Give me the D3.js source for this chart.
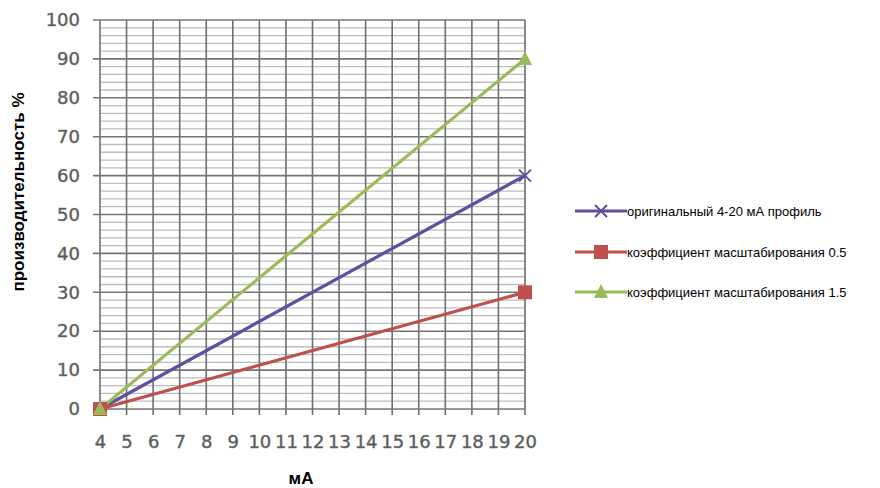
<!DOCTYPE html>
<html>
<head>
<meta charset="utf-8">
<script src="https://cdn.jsdelivr.net/npm/d3@7"></script>
<style>
body { margin: 0; background: #fff; }
svg { display: block; }
</style>
</head>
<body>
<div id="g"></div>
<script>
// data
const xValues = [4, 20];
const seriesNames = ["оригинальный 4-20 мА профиль", "коэффициент масштабирования 0.5", "коэффициент масштабирования 1.5"];
const original = [0, 60];
const scale05 = [0, 30];
const scale15 = [0, 90];
const xTicks = d3.range(4, 21);
const yTicks = [0, 10, 20, 30, 40, 50, 60, 70, 80, 90, 100];
const yMinor = d3.range(0, 101, 2);

const colors = ["#5E509F", "#C0504D", "#9BBB59"];
const shapes = ["x", "square", "triangle"];
const series = [original, scale05, scale15].map((vals, i) => ({
    name: seriesNames[i],
    color: colors[i],
    shape: shapes[i],
    pts: vals.map((v, j) => ({ x: xValues[j], y: v }))
}));

const width = 880, height = 488;
const margin = { top: 20, left: 100, right: 355, bottom: 79 };

const svg = d3.select("#g").append("svg")
    .attr("width", width)
    .attr("height", height);

const x = d3.scaleLinear().domain([4, 20]).range([margin.left, width - margin.right]);
const y = d3.scaleLinear().domain([0, 100]).range([height - margin.bottom, margin.top]);

const grid = svg.append("g");
// minor horizontal lines
grid.selectAll(".minor").data(yMinor.filter(d => d % 10 != 0))
    .enter().append("line")
    .attr("x1", x(4)).attr("x2", x(20))
    .attr("y1", d => y(d)).attr("y2", d => y(d))
    .attr("stroke", "#bdbdc2").attr("stroke-width", 1.3);
// vertical lines
grid.selectAll(".vline").data(xTicks)
    .enter().append("line")
    .attr("x1", d => x(d)).attr("x2", d => x(d))
    .attr("y1", y(100)).attr("y2", y(0) + 6)
    .attr("stroke", "#6e6e6e").attr("stroke-width", 1.6);
// major horizontal lines
grid.selectAll(".major").data(yTicks)
    .enter().append("line")
    .attr("x1", x(4) - 7).attr("x2", x(20))
    .attr("y1", d => y(d)).attr("y2", d => y(d))
    .attr("stroke", "#757575").attr("stroke-width", 1.6);

// axes labels via d3 axes
const yAxis = d3.axisLeft(y).tickValues(yTicks).tickSize(0).tickPadding(20);
svg.append("g")
    .attr("transform", `translate(${x(4)},0)`)
    .call(yAxis)
    .call(g => g.select(".domain").remove())
    .selectAll("text")
    .style("font-family", "DejaVu Sans")
    .style("font-size", "18px")
    .attr("fill", "#555")
    .attr("stroke", "#777")
    .attr("stroke-width", 0.5);

const xAxis = d3.axisBottom(x).tickValues(xTicks).tickSize(0).tickPadding(26).tickFormat(d3.format("d"));
svg.append("g")
    .attr("transform", `translate(0,${y(0)})`)
    .call(xAxis)
    .call(g => g.select(".domain").remove())
    .selectAll("text")
    .style("font-family", "DejaVu Sans")
    .style("font-size", "18px")
    .attr("fill", "#555")
    .attr("stroke", "#777")
    .attr("stroke-width", 0.5);

// titles
svg.append("text")
    .attr("transform", `translate(24,${192}) rotate(-90)`)
    .attr("text-anchor", "middle")
    .style("font-family", "Liberation Sans")
    .style("font-weight", "bold")
    .style("font-size", "17px")
    .text("производительность %");

svg.append("text")
    .attr("x", 301).attr("y", 484)
    .attr("text-anchor", "middle")
    .style("font-family", "Liberation Sans")
    .style("font-weight", "bold")
    .style("font-size", "17px")
    .text("мА");

// lines
const line = d3.line().x(d => x(d.x)).y(d => y(d.y));
svg.selectAll(".series").data(series)
    .enter().append("path")
    .attr("d", d => line(d.pts))
    .attr("fill", "none")
    .attr("stroke", d => d.color)
    .attr("stroke-width", 3.2);

function marker(g, shape, color) {
    if (shape == "x") {
        g.append("path").attr("d", "M-6,-6L6,6M-6,6L6,-6")
            .attr("stroke", color).attr("stroke-width", 2);
    } else if (shape == "square") {
        g.append("rect").attr("x", -7).attr("y", -7).attr("width", 14).attr("height", 14)
            .attr("fill", color);
    } else {
        g.append("path").attr("d", "M0,-8L7,6L-7,6Z").attr("fill", color);
    }
}

series.forEach(s => {
    s.pts.forEach(p => {
        const g = svg.append("g").attr("transform", `translate(${x(p.x)},${y(p.y)})`);
        marker(g, s.shape, s.color);
    });
});

// legend
const legendY = [211, 252, 292];
series.forEach((s, i) => {
    const g = svg.append("g").attr("transform", `translate(575,${legendY[i]})`);
    g.append("line").attr("x1", 0).attr("x2", 52).attr("y1", 0).attr("y2", 0)
        .attr("stroke", s.color).attr("stroke-width", 3);
    const m = g.append("g").attr("transform", "translate(26,0)");
    marker(m, s.shape, s.color);
    g.append("text")
        .attr("x", 52).attr("y", 4.5)
        .style("font-family", "Liberation Sans")
        .style("font-size", "13px")
        .text(s.name);
});
</script>
</body>
</html>
